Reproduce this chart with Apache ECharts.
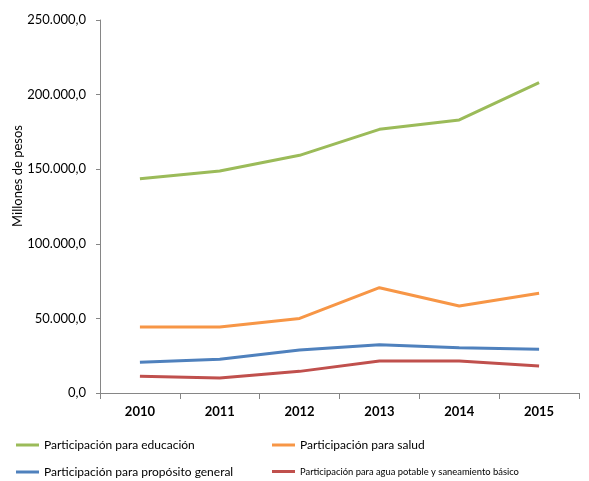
<!DOCTYPE html>
<html><head><meta charset="utf-8">
<script src="https://cdn.jsdelivr.net/npm/echarts@6/dist/echarts.min.js"></script>
<style>html,body{margin:0;padding:0;background:#fff}#c{width:589px;height:481px}</style>
</head><body><div id="c"></div>
<script>
const years = ['2010','2011','2012','2013','2014','2015'];
const educacion = [143600, 148800, 159300, 176700, 183000, 208000];
const salud = [44200, 44200, 50000, 70600, 58300, 66800];
const general = [20600, 22600, 28800, 32400, 30400, 29300];
const agua = [11200, 10000, 14500, 21400, 21400, 18100];
const names = ['Participación para educación','Participación para salud','Participación para propósito general','Participación para agua potable y saneamiento básico'];
const colors = ['#9BBB59','#F79646','#4F81BD','#C0504D'];
const FONT = 'Lato, "Open Sans", sans-serif';
function fmt(v){
  const s = Math.round(v).toString().replace(/\B(?=(\d{3})+(?!\d))/g,'.');
  return s + ',0';
}
const chart = echarts.init(document.getElementById('c'));
const series = [educacion, salud, general, agua].map((d,i)=>({
  name: names[i], type:'line', data:d, symbol:'none',
  lineStyle:{color:colors[i], width:3}, itemStyle:{color:colors[i]}, animation:false
}));
const leg = (i,left,top,size)=>({
  data:[names[i]], left:left, top:top, icon:'rect', itemWidth:23, itemHeight:3,
  selectedMode:false, textStyle:{fontFamily:FONT, fontSize:size, color:'#000'}, padding:0
});
chart.setOption({
  animation:false,
  grid:{left:100, right:10, top:20, bottom:88},
  xAxis:{type:'category', data:years, boundaryGap:true,
    axisLine:{lineStyle:{color:'#868686'}},
    axisTick:{show:true, length:6, lineStyle:{color:'#868686'}},
    axisLabel:{fontFamily:FONT, fontSize:13, fontWeight:'bold', color:'#000', margin:12}},
  yAxis:{type:'value', min:0, max:250000, interval:50000,
    axisLine:{show:true, lineStyle:{color:'#868686'}},
    axisTick:{show:true, length:4, lineStyle:{color:'#868686'}},
    splitLine:{show:false},
    axisLabel:{fontFamily:FONT, fontSize:13, color:'#000', margin:14, formatter:fmt}},
  legend:[leg(0,16,439,12), leg(1,272,439,12), leg(2,16,466,12), leg(3,272,467,9.4)],
  graphic:[{type:'text', left:11, top:125, rotation:Math.PI/2,
    style:{text:'Millones de pesos', font:'13px '+FONT, fill:'#000'}}],
  series: series
});
</script></body></html>
